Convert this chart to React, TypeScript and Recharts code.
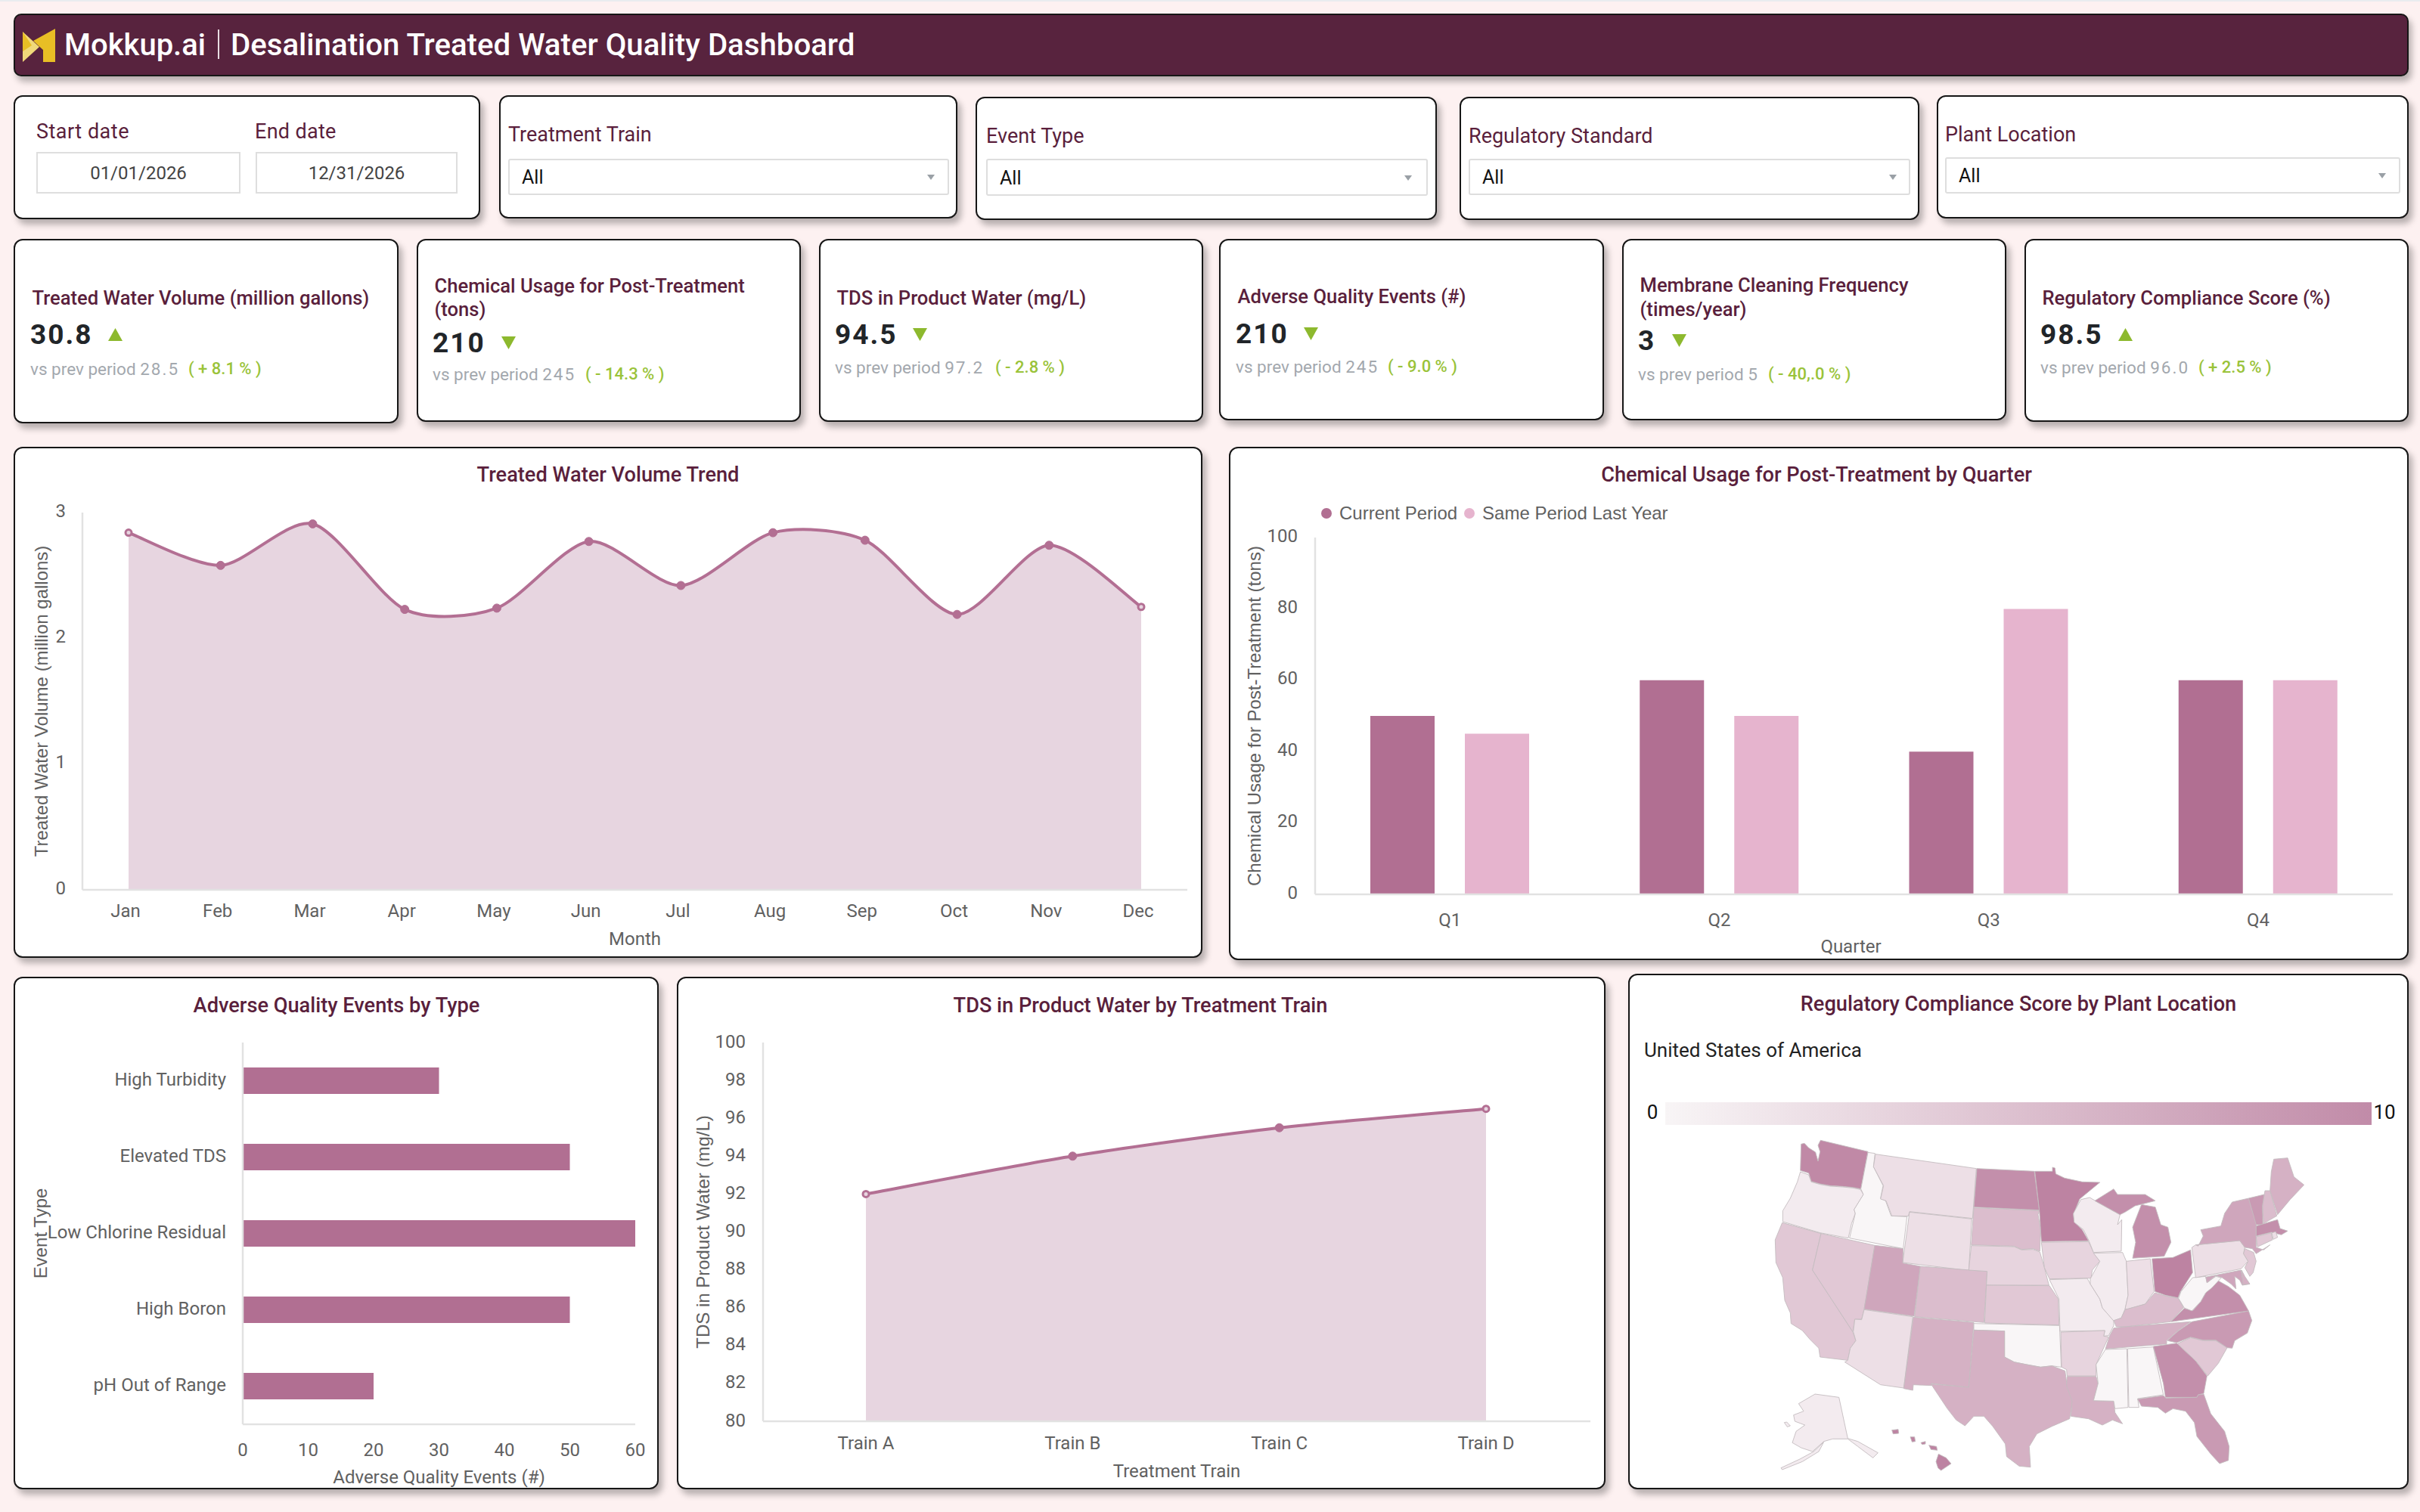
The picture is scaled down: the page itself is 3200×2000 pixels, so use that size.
import React from "react";
import {
  AreaChart,
  Area,
  BarChart,
  Bar,
  ScatterChart,
  Scatter,
  XAxis,
  YAxis,
  Legend,
} from "recharts";

// chart values
const months = ["Jan", "Feb", "Mar", "Apr", "May", "Jun", "Jul", "Aug", "Sep", "Oct", "Nov", "Dec"];
const volumeValues = [2.84, 2.58, 2.91, 2.23, 2.24, 2.77, 2.42, 2.84, 2.78, 2.19, 2.74, 2.25];
const quarters = ["Q1", "Q2", "Q3", "Q4"];
const currentPeriod = [50, 60, 40, 60];
const lastYear = [45, 50, 80, 60];
const eventTypes = ["High Turbidity", "Elevated TDS", "Low Chlorine Residual", "High Boron", "pH Out of Range"];
const eventCounts = [30, 50, 60, 50, 20];
const trains = ["Train A", "Train B", "Train C", "Train D"];
const tdsValues = [92, 94, 95.5, 96.5];

const kpiTitles = [
  ["Treated Water Volume (million gallons)"],
  ["Chemical Usage for Post-Treatment", "(tons)"],
  ["TDS in Product Water (mg/L)"],
  ["Adverse Quality Events (#)"],
  ["Membrane Cleaning Frequency", "(times/year)"],
  ["Regulatory Compliance Score (%)"],
];
const kpiValues = ["30.8", "210", "94.5", "210", "3", "98.5"];
const kpiUp = [true, false, false, false, false, true];
const kpiPrev = ["28.5", "245", "97.2", "245", "5", "96.0"];
const kpiDelta = ["( + 8.1 % )", "( - 14.3 % )", "( - 2.8 % )", "( - 9.0 % )", "( - 40,.0 % )", "( + 2.5 % )"];

const filterLabels = ["Treatment Train", "Event Type", "Regulatory Standard", "Plant Location"];

const mapScores: Record<string, number> = {
  WA: 9.5, OR: 1, CA: 4, NV: 4, ID: 0, MT: 2, WY: 2, UT: 7, CO: 5, AZ: 2, NM: 6, ND: 9, SD: 5, NE: 3, KS: 4,
  OK: 0, TX: 6, MN: 10, IA: 3, MO: 1, AR: 3, LA: 6, WI: 1, IL: 1, IN: 2, MI: 9, OH: 10, KY: 5, TN: 6, MS: 0,
  AL: 0, GA: 9, SC: 4, NC: 8, VA: 9, WV: 0, PA: 2, NY: 7, NJ: 4, MD: 7, DE: 6, ME: 6, NH: 5, VT: 8, MA: 9,
  CT: 4, RI: 2, FL: 8, AK: 1, HI: 10,
};

// state outlines in map units
const westOutlines: Record<string, number[][][]> = {
  WA: [[[305,100],[318,97],[335,115],[362,132],[372,168],[380,130],[372,105],[382,85],[570,130],[542,278],[510,272],[470,268],[420,265],[380,258],[345,248],[335,215],[302,205]]],
  OR: [[[302,210],[335,222],[345,250],[380,260],[420,267],[470,270],[510,274],[540,280],[552,300],[515,360],[520,375],[505,415],[492,473],[380,452],[232,408],[232,365],[262,315],[290,250]]],
  CA: [[[230,412],[384,455],[350,600],[510,845],[522,880],[500,910],[490,958],[380,945],[375,910],[340,875],[310,840],[265,812],[262,770],[240,720],[232,630],[205,570],[202,480]]],
  NV: [[[384,455],[597,502],[555,755],[545,795],[518,795],[510,845],[350,600]]],
  ID: [[[570,133],[598,137],[592,190],[630,265],[620,315],[640,325],[662,385],[725,388],[710,515],[497,473],[520,375],[515,360],[552,300],[542,278]]],
  MT: [[[600,140],[1000,197],[985,395],[735,368],[730,386],[665,385],[642,325],[620,318],[632,265],[592,190]]],
  WY: [[[735,370],[982,397],[970,602],[708,570]]],
  UT: [[[597,502],[710,515],[708,572],[778,585],[753,783],[555,755]]],
  CO: [[[778,585],[1043,605],[1030,808],[755,785]]],
  AZ: [[[555,757],[748,785],[712,1068],[620,1055],[478,965],[490,958],[500,910],[522,880],[512,845],[518,795],[545,797]]],
  NM: [[[750,787],[990,808],[970,1065],[820,1050],[822,1058],[750,1055],[748,1077],[712,1070]]],
  ND: [[[1002,197],[1230,208],[1250,362],[990,350]]],
  SD: [[[990,353],[1250,364],[1245,380],[1255,440],[1252,525],[1225,515],[1180,518],[1150,505],[980,500]]],
  NE: [[[980,503],[1150,507],[1180,520],[1225,518],[1252,528],[1270,590],[1288,660],[1040,660],[1043,605],[970,600]]],
  KS: [[[1040,660],[1290,662],[1325,715],[1328,818],[1033,810]]],
  OK: [[[990,812],[1330,820],[1337,985],[1300,980],[1255,985],[1200,975],[1150,965],[1112,945],[1112,842],[990,838]]],
  TX: [[[990,838],[1112,842],[1112,945],[1150,965],[1200,975],[1255,985],[1300,980],[1352,1000],[1360,1060],[1382,1120],[1370,1190],[1300,1220],[1240,1250],[1210,1300],[1215,1382],[1170,1378],[1120,1340],[1115,1290],[1065,1220],[1030,1180],[990,1180],[955,1218],[920,1195],[885,1150],[820,1052],[970,1065]]],
  MN: [[[1232,208],[1302,208],[1302,192],[1312,195],[1315,218],[1350,235],[1420,250],[1490,252],[1410,318],[1385,380],[1390,410],[1420,440],[1445,484],[1258,487],[1250,362]]],
  IA: [[[1258,490],[1445,487],[1465,530],[1490,565],[1460,600],[1455,632],[1290,635],[1270,590]]],
  AK: [
    [[295,1130],[360,1092],[455,1105],[490,1268],[530,1280],[610,1325],[590,1345],[530,1300],[490,1270],[430,1270],[395,1280],[350,1320],[305,1305],[270,1285],[285,1240],[320,1215],[280,1200],[275,1175],[315,1160]],
    [[395,1282],[375,1320],[310,1360],[230,1392],[225,1385],[300,1350],[355,1320]],
    [[238,1205],[248,1203],[262,1218],[250,1222]],
  ],
  HI: [
    [[850,1330],[880,1345],[900,1368],[860,1395],[848,1385],[840,1360]],
    [[812,1295],[842,1300],[845,1315],[820,1312]],
    [[780,1285],[798,1280],[798,1290],[785,1292]],
    [[738,1262],[755,1262],[758,1280],[745,1282]],
    [[665,1235],[690,1232],[692,1248],[670,1250]],
  ],
};

const eastOutlines: Record<string, number[][][]> = {
  MO: [[[210,638],[360,633],[372,655],[410,715],[420,750],[465,800],[465,820],[445,860],[425,862],[430,840],[252,843],[248,715]]],
  AR: [[[255,846],[430,840],[425,862],[445,865],[395,975],[395,1020],[280,1020],[278,995],[258,985]]],
  LA: [[[280,1022],[395,1022],[403,1050],[385,1118],[465,1120],[470,1165],[500,1210],[460,1195],[420,1215],[365,1190],[295,1180],[300,1120],[278,1060]]],
  WI: [[[335,320],[370,312],[400,330],[490,380],[480,420],[497,400],[495,525],[385,530],[365,480],[345,440],[308,410],[305,375]]],
  IL: [[[385,533],[500,530],[515,565],[522,700],[510,755],[495,790],[465,802],[420,750],[410,715],[372,655],[372,635],[410,565]]],
  IN: [[[515,565],[610,555],[625,685],[590,735],[520,755],[510,755],[522,700]]],
  MI: [
    [[390,325],[465,278],[480,300],[540,300],[590,300],[630,325],[590,335],[550,345],[510,370],[490,380]],
    [[575,340],[630,350],[652,420],[680,430],[692,490],[665,545],[540,553],[552,490],[540,430]],
  ],
  OH: [[[617,555],[700,550],[770,520],[778,610],[730,685],[720,710],[670,700],[628,685]]],
  KY: [[[475,825],[465,800],[495,790],[510,757],[590,735],[628,690],[670,702],[722,712],[742,750],[690,805],[510,825]]],
  TN: [[[450,858],[465,830],[510,825],[770,805],[720,840],[675,880],[675,893],[432,913]]],
  MS: [[[432,915],[517,912],[522,1145],[470,1150],[465,1120],[385,1118],[403,1050],[395,975]]],
  AL: [[[520,912],[622,905],[662,1095],[560,1110],[565,1145],[540,1145],[525,1145]]],
  GA: [[[622,903],[715,890],[790,960],[835,1020],[822,1090],[800,1095],[795,1105],[670,1105],[662,1050]]],
  SC: [[[718,892],[770,868],[820,880],[870,880],[915,908],[880,970],[838,1020],[790,960]]],
  NC: [[[678,880],[720,842],[775,805],[1000,762],[1013,800],[995,850],[945,880],[935,910],[915,908],[870,878],[820,878],[770,866],[715,888]]],
  VA: [[[692,805],[745,752],[780,760],[810,725],[830,690],[850,670],[875,640],[920,665],[965,700],[985,735],[1000,762]]],
  WV: [[[722,712],[732,685],[778,630],[830,625],[835,650],[870,625],[892,630],[855,670],[830,690],[810,725],[775,762],[745,750]]],
  PA: [[[775,510],[790,500],[965,483],[985,510],[980,535],[998,565],[970,595],[790,630]]],
  NY: [[[800,505],[820,465],[810,440],[890,425],[905,375],[935,330],[1000,315],[1030,410],[1030,510],[1060,520],[1085,500],[1030,535],[1015,515],[985,510],[965,483],[790,500]]],
  NJ: [[[985,515],[1020,530],[1030,565],[1018,610],[1005,625],[985,590],[998,565],[980,535]]],
  MD: [[[830,628],[970,600],[975,630],[1005,655],[975,660],[965,640],[945,625],[950,675],[930,655],[895,630],[870,622],[835,650]]],
  DE: [[[972,600],[985,625],[1005,655],[978,658]]],
  ME: [[[1100,160],[1155,155],[1180,230],[1220,262],[1165,320],[1115,380],[1085,285],[1090,210]]],
  NH: [[[1065,285],[1085,285],[1112,385],[1060,415],[1055,345]]],
  VT: [[[1000,315],[1062,300],[1055,345],[1057,420],[1030,420]]],
  MA: [[[1030,425],[1115,400],[1125,435],[1155,445],[1130,460],[1090,450],[1030,465]]],
  CT: [[[1030,468],[1090,452],[1095,480],[1035,508]]],
  RI: [[[1092,452],[1108,448],[1115,470],[1098,478]]],
  FL: [[[560,1112],[662,1098],[672,1108],[795,1105],[800,1095],[822,1092],[850,1170],[905,1240],[923,1300],[920,1355],[885,1368],[850,1330],[795,1260],[785,1205],[750,1160],[700,1150],[670,1168],[640,1145],[575,1140]]],
};

// tables the library needs
const volumeData = months.map((m, i) => ({ month: m, volume: volumeValues[i] }));
const quarterData = quarters.map((q, i) => ({ quarter: q, current: currentPeriod[i], last: lastYear[i] }));
const eventData = eventTypes.map((e, i) => ({ type: e, count: eventCounts[i] }));
const tdsData = trains.map((t, i) => ({ train: t, tds: tdsValues[i] }));
const eastShift = 1080;
const allOutlines: Record<string, number[][][]> = { ...westOutlines };
Object.keys(eastOutlines).forEach((k) => {
  allOutlines[k] = eastOutlines[k].map((ring) => ring.map(([x, y]) => [x + eastShift, y]));
});
const mapData = Object.keys(allOutlines).map((k) => ({
  state: k,
  score: mapScores[k],
  x: allOutlines[k][0][0][0],
  y: allOutlines[k][0][0][1],
  rings: allOutlines[k],
}));

const MAROON = "#5A1F3C";
const BAR = "#B16F92";
const BAR_LIGHT = "#E6B4CE";
const AREA = "#E7D5E0";
const LINE = "#B36F93";
const GREY = "#616161";
const AXIS = "#E2E2E2";
const GREEN = "#8DB92E";
const ARIAL = "Liberation Sans";
const TENSION = 0.8;

const tickStyle = { fontFamily: "Roboto", fontSize: 24, fill: GREY };
const axisLine = { stroke: AXIS, strokeWidth: 2.5 };

// the reference's lines overshoot less than "natural" and more than "monotone"
function softCurve(context: any) {
  let pts: number[][] = [];
  let line = NaN;
  return {
    areaStart() {
      line = 0;
    },
    areaEnd() {
      line = NaN;
    },
    lineStart() {
      pts = [];
    },
    point(x: number, y: number) {
      pts.push([+x, +y]);
    },
    lineEnd() {
      pts.forEach((p, i) => {
        if (i === 0) {
          if (line) context.lineTo(p[0], p[1]);
          else context.moveTo(p[0], p[1]);
          return;
        }
        const p0 = pts[Math.max(i - 2, 0)];
        const p1 = pts[i - 1];
        const p3 = pts[Math.min(i + 1, pts.length - 1)];
        context.bezierCurveTo(
          p1[0] + ((p[0] - p0[0]) / 6) * TENSION,
          p1[1] + ((p[1] - p0[1]) / 6) * TENSION,
          p[0] - ((p3[0] - p1[0]) / 6) * TENSION,
          p[1] - ((p3[1] - p1[1]) / 6) * TENSION,
          p[0],
          p[1]
        );
      });
      if (line) context.closePath();
      line = 1 - line;
    },
  };
}

function yTitle(value: string, offset: number) {
  return {
    value,
    angle: -90,
    position: "insideLeft" as const,
    offset,
    style: { textAnchor: "middle", fontFamily: ARIAL, fontSize: 24, fill: GREY },
  };
}

function xTitle(value: string, offset: number, dx = 0) {
  return {
    value,
    position: "insideBottom" as const,
    offset,
    dx,
    style: { fontFamily: "Roboto", fontSize: 24, fill: GREY },
  };
}

function T({ x, y, size, color = MAROON, weight = 400, center = false, spacing = 0, font = "Roboto", children }: any) {
  return (
    <div
      style={{
        position: "absolute",
        left: x,
        top: y,
        fontFamily: font,
        fontSize: size,
        fontWeight: weight,
        color,
        letterSpacing: spacing,
        lineHeight: 1,
        whiteSpace: "nowrap",
        transform: center ? "translate(-50%, -50%)" : "translateY(-50%)",
      }}
    >
      {children}
    </div>
  );
}

function Card({ box }: { box: number[] }) {
  return (
    <div
      style={{
        position: "absolute",
        left: box[0],
        top: box[1],
        width: box[2] - box[0],
        height: box[3] - box[1],
        boxSizing: "border-box",
        background: "#fff",
        border: "2.5px solid #161616",
        borderRadius: 12,
        boxShadow: "5px 7px 8px rgba(0,0,0,0.28)",
      }}
    />
  );
}

function Tri({ x, y, up, w = 19, h = 17 }: any) {
  return (
    <svg style={{ position: "absolute", left: x, top: y }} width={w} height={h}>
      <polygon points={up ? `${w / 2},0 ${w},${h} 0,${h}` : `0,0 ${w},0 ${w / 2},${h}`} fill={GREEN} />
    </svg>
  );
}

function Filter({ label, box, labelY, select, arrowX }: any) {
  return (
    <>
      <Card box={box} />
      <T x={select[0]} y={labelY} size={27}>{label}</T>
      <div
        style={{
          position: "absolute",
          left: select[0],
          top: select[1],
          width: select[2] - select[0],
          height: select[3] - select[1],
          boxSizing: "border-box",
          border: "2px solid #DEDEDE",
          borderRadius: 3,
        }}
      />
      <T x={select[0] + 18} y={(select[1] + select[3]) / 2} size={25} color="#111">All</T>
      <svg style={{ position: "absolute", left: arrowX - 5, top: (select[1] + select[3]) / 2 - 3 }} width={10} height={7}>
        <polygon points="0,0 10,0 5,7" fill="#9AA0A6" />
      </svg>
    </>
  );
}

const filterBoxes = [
  [660, 126, 1266, 289],
  [1290, 128, 1900, 291],
  [1930, 128, 2538, 291],
  [2561, 126, 3185, 289],
];
const filterSelects = [
  [672, 210, 1255, 258],
  [1304, 210, 1888, 259],
  [1942, 210, 2526, 258],
  [2572, 208, 3174, 256],
];
const filterLabelY = [177.5, 179.5, 179.5, 177.5];
const filterArrowX = [1231, 1862, 2503, 3150];

const kpiBoxes = [
  [18, 316, 527, 560],
  [551, 316, 1059, 558],
  [1083, 316, 1591, 558],
  [1612, 316, 2121, 556],
  [2145, 316, 2653, 556],
  [2677, 316, 3185, 558],
];
const kpiTextX = [40, 572, 1104, 1634, 2166, 2698];
const kpiTitleY = [[395], [379, 410], [395], [393], [378, 410], [395]];
const kpiValueY = [442, 453, 442, 441, 450, 442];
const kpiTriX = [143, 663, 1207, 1724, 2211, 2801];
const kpiSubY = [488, 495, 486, 485, 495, 486];
const kpiDeltaX = [249, 774, 1316, 1835, 2338, 2907];

function Kpi({ i }: { i: number }) {
  const x = kpiTextX[i];
  return (
    <>
      <Card box={kpiBoxes[i]} />
      {kpiTitles[i].map((line, n) => (
        <T key={n} x={x + 2.5} y={kpiTitleY[i][n]} size={25.6} weight={500}>{line}</T>
      ))}
      <T x={x} y={kpiValueY[i]} size={37} weight={700} color="#212529" spacing={2}>{kpiValues[i]}</T>
      <Tri x={kpiTriX[i]} y={kpiValueY[i] - 8} up={kpiUp[i]} />
      <T x={x} y={kpiSubY[i]} size={22.5} color="#A3A8AE">
        vs prev period <span style={{ letterSpacing: 2 }}>{kpiPrev[i]}</span>
      </T>
      <T x={kpiDeltaX[i]} y={kpiSubY[i]} size={22} weight={500} color="#9AC33A">{kpiDelta[i]}</T>
    </>
  );
}

function endDot(last: number) {
  return (p: any) => {
    const hollow = p.index === 0 || p.index === last;
    return (
      <circle
        key={p.index}
        cx={p.cx}
        cy={p.cy}
        r={hollow ? 4 : 5.5}
        fill={hollow ? AREA : LINE}
        stroke={LINE}
        strokeWidth={hollow ? 3 : 1}
      />
    );
  };
}

function LegendRow() {
  const item = (color: string, text: string) => (
    <div style={{ display: "flex", alignItems: "center", marginRight: 9 }}>
      <div style={{ width: 14, height: 14, borderRadius: 7, background: color, marginRight: 10 }} />
      <span style={{ fontFamily: ARIAL, fontSize: 24, color: GREY }}>{text}</span>
    </div>
  );
  return (
    <div style={{ display: "flex", height: 30, alignItems: "center" }}>
      {item(BAR, "Current Period")}
      {item(BAR_LIGHT, "Same Period Last Year")}
    </div>
  );
}

function mapColor(score: number) {
  const lo = [249, 246, 247];
  const hi = [189, 131, 162];
  const t = score / 10;
  const c = lo.map((v, i) => Math.round(v + (hi[i] - v) * t));
  return `rgb(${c[0]},${c[1]},${c[2]})`;
}

function StateShape(props: any) {
  const { cx, cy, payload } = props;
  const d = payload.rings
    .map(
      (ring: number[][]) =>
        "M" + ring.map(([x, y]) => `${cx + (x - payload.x) / 3},${cy + (y - payload.y) / 3}`).join("L") + "Z"
    )
    .join("");
  return <path d={d} fill={mapColor(payload.score)} stroke="#C4BCC0" strokeWidth={0.9} strokeLinejoin="round" />;
}

function Logo() {
  return (
    <svg style={{ position: "absolute", left: 30, top: 38 }} width={44} height={44}>
      <polygon points="0,4 22,24 0,44" fill="#F0D97A" />
      <polygon points="43,0 43,44 27,44 27,28 14,16" fill="#E8BE25" />
      <polygon points="0,30 12,22 0,4" fill="#E8BE25" />
    </svg>
  );
}

export default function App() {
  return (
    <div style={{ position: "absolute", left: 0, top: 0, width: 3200, height: 2000, background: "#FDF1F1", overflow: "hidden", fontFamily: "Roboto" }}>
      <div style={{ position: "absolute", left: 0, top: 0, width: 3200, height: 2, background: "#E9ECEF" }} />

      {/* header */}
      <div
        style={{
          position: "absolute",
          left: 18,
          top: 18,
          width: 3167,
          height: 83,
          boxSizing: "border-box",
          background: "#58233E",
          border: "2px solid #161616",
          borderRadius: 10,
          boxShadow: "4px 7px 8px rgba(0,0,0,0.28)",
        }}
      />
      <Logo />
      <T x={85} y={60} size={40} weight={500} color="#fff">Mokkup.ai</T>
      <div style={{ position: "absolute", left: 288, top: 39, width: 2, height: 39, background: "#E8DDE2" }} />
      <T x={305} y={60} size={40.2} weight={500} color="#fff">Desalination Treated Water Quality Dashboard</T>

      {/* filters */}
      <Card box={[18, 126, 635, 290]} />
      <T x={48} y={174} size={27} spacing={0.5}>Start date</T>
      <T x={337} y={174} size={27} spacing={0.3}>End date</T>
      {[[48, 318, "01/01/2026"], [338, 605, "12/31/2026"]].map(([a, b, text]: any) => (
        <React.Fragment key={text}>
          <div style={{ position: "absolute", left: a, top: 201, width: b - a, height: 55, boxSizing: "border-box", border: "2px solid #DEDEDE" }} />
          <T x={(a + b) / 2} y={229} size={24} color="#444" center>{text}</T>
        </React.Fragment>
      ))}
      {filterLabels.map((label, i) => (
        <Filter key={label} label={label} box={filterBoxes[i]} labelY={filterLabelY[i]} select={filterSelects[i]} arrowX={filterArrowX[i]} />
      ))}

      {/* kpis */}
      {kpiValues.map((_, i) => (
        <Kpi key={i} i={i} />
      ))}

      {/* trend */}
      <Card box={[18, 591, 1590, 1267]} />
      <T x={804} y={629} size={27.2} weight={500} center>Treated Water Volume Trend</T>
      <div style={{ position: "absolute", left: 19, top: 591 }}>
        <AreaChart width={1571} height={676} data={volumeData} margin={{ top: 87, right: 20, bottom: 0, left: 0 }}>
          <XAxis
            dataKey="month"
            padding={{ left: 61, right: 61 }}
            height={90}
            tickSize={0}
            tickMargin={19}
            tick={{ ...tickStyle, dx: -4 }}
            axisLine={axisLine}
            label={xTitle("Month", 17)}
          />
          <YAxis
            domain={[0, 3]}
            ticks={[0, 1, 2, 3]}
            width={90}
            tickSize={0}
            tickMargin={22}
            tick={{ ...tickStyle, dy: -3 }}
            axisLine={axisLine}
            label={yTitle("Treated Water Volume (million gallons)", 35)}
          />
          <Area
            type={softCurve as any}
            dataKey="volume"
            stroke={LINE}
            strokeWidth={4}
            fill={AREA}
            fillOpacity={1}
            dot={endDot(months.length - 1)}
            isAnimationActive={false}
          />
        </AreaChart>
      </div>

      {/* chemical usage */}
      <Card box={[1625, 591, 3185, 1270]} />
      <T x={2402} y={629} size={27.2} weight={500} center>Chemical Usage for Post-Treatment by Quarter</T>
      <div style={{ position: "absolute", left: 1625, top: 591 }}>
        <BarChart
          width={1560}
          height={679}
          data={quarterData}
          barSize={85}
          barGap={40}
          margin={{ top: 90, right: 21, bottom: 0, left: 0 }}
        >
          <Legend content={<LegendRow />} verticalAlign="top" align="left" wrapperStyle={{ left: 122, top: 73, width: 600 }} />
          <XAxis dataKey="quarter" height={87} tickSize={0} tickMargin={25} tick={tickStyle} axisLine={axisLine} label={xTitle("Quarter", 10, -4)} />
          <YAxis
            domain={[0, 100]}
            ticks={[0, 20, 40, 60, 80, 100]}
            width={114}
            tickSize={0}
            tickMargin={23}
            tick={{ ...tickStyle, dy: -3 }}
            axisLine={axisLine}
            label={yTitle("Chemical Usage for Post-Treatment (tons)", 33)}
          />
          <Bar dataKey="current" name="Current Period" fill={BAR} isAnimationActive={false} />
          <Bar dataKey="last" name="Same Period Last Year" fill={BAR_LIGHT} isAnimationActive={false} />
        </BarChart>
      </div>

      {/* adverse events */}
      <Card box={[18, 1292, 871, 1970]} />
      <T x={445} y={1331} size={27.2} weight={500} center>Adverse Quality Events by Type</T>
      <div style={{ position: "absolute", left: 19, top: 1292 }}>
        <BarChart
          layout="vertical"
          width={852}
          height={678}
          data={eventData}
          barSize={35}
          margin={{ top: 87, right: 31, bottom: 0, left: 0 }}
        >
          <XAxis
            type="number"
            domain={[0, 60]}
            ticks={[0, 10, 20, 30, 40, 50, 60]}
            height={86}
            tickSize={0}
            tickMargin={25}
            tick={tickStyle}
            axisLine={axisLine}
            label={xTitle("Adverse Quality Events (#)", 8)}
          />
          <YAxis
            type="category"
            dataKey="type"
            width={302}
            tickSize={0}
            tickMargin={22}
            tick={{ ...tickStyle, dy: -2 }}
            axisLine={axisLine}
            label={yTitle("Event Type", 34)}
          />
          <Bar dataKey="count" fill={BAR} isAnimationActive={false} />
        </BarChart>
      </div>

      {/* tds */}
      <Card box={[895, 1292, 2123, 1970]} />
      <T x={1508} y={1331} size={27.2} weight={500} center>TDS in Product Water by Treatment Train</T>
      <div style={{ position: "absolute", left: 895, top: 1292 }}>
        <AreaChart width={1228} height={678} data={tdsData} margin={{ top: 87, right: 20, bottom: 0, left: 0 }}>
          <XAxis
            dataKey="train"
            padding={{ left: 136, right: 138 }}
            height={90}
            tickSize={0}
            tickMargin={20}
            tick={tickStyle}
            axisLine={axisLine}
            label={xTitle("Treatment Train", 16)}
          />
          <YAxis
            domain={[80, 100]}
            ticks={[80, 82, 84, 86, 88, 90, 92, 94, 96, 98, 100]}
            width={114}
            tickSize={0}
            tickMargin={23}
            tick={{ ...tickStyle, dy: -2 }}
            axisLine={axisLine}
            label={yTitle("TDS in Product Water (mg/L)", 34)}
          />
          <Area
            type={softCurve as any}
            dataKey="tds"
            stroke={LINE}
            strokeWidth={4}
            fill={AREA}
            fillOpacity={1}
            dot={endDot(trains.length - 1)}
            isAnimationActive={false}
          />
        </AreaChart>
      </div>

      {/* map */}
      <Card box={[2153, 1288, 3185, 1970]} />
      <T x={2669} y={1329} size={27.2} weight={500} center>Regulatory Compliance Score by Plant Location</T>
      <T x={2174} y={1389} size={26} color="#222">United States of America</T>
      <T x={2185} y={1471} size={26} color="#111" center>0</T>
      <div style={{ position: "absolute", left: 2202, top: 1458, width: 934, height: 30, background: "linear-gradient(90deg, #F8F5F6, #C18BA8)" }} />
      <T x={3153} y={1471} size={26} color="#111" center>10</T>
      <div style={{ position: "absolute", left: 2280, top: 1480 }}>
        <ScatterChart width={810} height={480} margin={{ top: 0, right: 0, bottom: 0, left: 0 }}>
          <XAxis type="number" dataKey="x" domain={[0, 2430]} hide />
          <YAxis type="number" dataKey="y" domain={[0, 1440]} reversed hide />
          <Scatter data={mapData} shape={StateShape} isAnimationActive={false} />
        </ScatterChart>
      </div>
    </div>
  );
}
